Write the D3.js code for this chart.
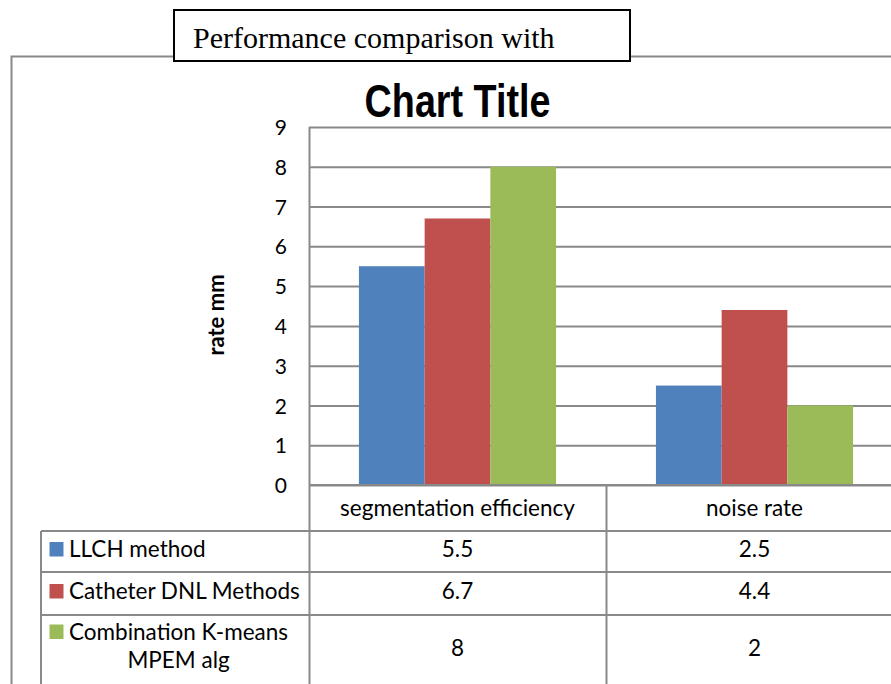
<!DOCTYPE html>
<html lang="en">
	<head>
		<meta charset="utf-8">
		<title>D3: Chart Title</title>
		<script type="text/javascript" src="https://d3js.org/d3.v7.min.js"></script>
		<style type="text/css">
			body {
				margin: 0;
				background-color: white;
			}
			.tick-label {
				font-family: Lato, sans-serif;
				font-size: 21px;
				fill: #000;
			}
			.cell {
				font-family: Lato, sans-serif;
				font-size: 22.5px;
				fill: #000;
			}
			.axis-title {
				font-family: Lato, sans-serif;
				font-size: 22px;
				font-weight: bold;
			}
			.chart-title {
				font-family: "Liberation Sans", Arial, sans-serif;
				font-size: 46px;
				font-weight: bold;
			}
			.box-title {
				font-family: "Liberation Serif", "Times New Roman", serif;
				font-size: 30px;
			}
		</style>
	</head>
	<body>
		<div id="chart"></div>
		<script type="text/javascript">
			//Data
			const categories = ["segmentation efficiency", "noise rate"];
			const seriesNames = ["LLCH method", "Catheter DNL Methods", "Combination K-means MPEM alg"];
			const llchValues = [5.5, 2.5];
			const catheterValues = [6.7, 4.4];
			const combinationValues = [8, 2];
			const yTicks = [0, 1, 2, 3, 4, 5, 6, 7, 8, 9];
			const colors = ["#4F81BD", "#C0504D", "#9BBB59"];

			// how the table wraps the long series name
			const labelLines = [["LLCH method"], ["Catheter DNL Methods"], ["Combination K-means", "MPEM alg"]];

			const series = [llchValues, catheterValues, combinationValues];

			//Layout
			const W = 891, H = 684;
			const plot = { left: 309, top: 127, bottom: 485, right: 903 };
			const rowEdges = [485, 531, 572, 615, 685];
			const tableLeft = 41;
			const lineColor = "#898989";

			const svg = d3.select("#chart")
				.append("svg")
				.attr("width", W)
				.attr("height", H);

			//Scales
			const x0 = d3.scaleBand()
				.domain(categories)
				.range([plot.left, plot.right]);
			const x1 = d3.scaleBand()
				.domain(seriesNames)
				.range([0, x0.bandwidth()])
				.paddingOuter(0.76);
			const yScale = d3.scaleLinear()
				.domain([0, 9])
				.range([plot.bottom, plot.top]);

			//Outer frame
			svg.append("path")
				.attr("d", `M11.5,${H} V56.5 H${W}`)
				.attr("fill", "none")
				.attr("stroke", lineColor)
				.attr("stroke-width", 2);

			//Gridlines and y tick labels
			const yAxis = d3.axisLeft(yScale)
				.tickValues(yTicks)
				.tickSize(-(W - plot.left))
				.tickSizeOuter(0)
				.tickPadding(22);

			const gy = svg.append("g")
				.attr("transform", `translate(${plot.left},0)`)
				.call(yAxis);
			gy.select(".domain").remove();
			gy.selectAll(".tick line")
				.attr("stroke", lineColor)
				.attr("stroke-width", 2);
			gy.selectAll(".tick text")
				.attr("class", "tick-label")
				.attr("dy", "0.36em")
				.style("font-family", null)
				.attr("font-family", null)
				.attr("font-size", null);

			//Bars
			const bars = [];
			categories.forEach(function(c, i) {
				seriesNames.forEach(function(s, j) {
					bars.push({ cat: c, name: s, value: series[j][i], color: colors[j] });
				});
			});

			svg.append("g")
				.selectAll("rect")
				.data(bars)
				.enter()
				.append("rect")
				.attr("x", d => x0(d.cat) + x1(d.name))
				.attr("y", d => yScale(d.value))
				.attr("width", x1.bandwidth())
				.attr("height", d => yScale(0) - yScale(d.value))
				.attr("fill", d => d.color);

			//Data table lines
			const table = svg.append("g")
				.attr("stroke", lineColor)
				.attr("stroke-width", 2);

			// top of header row = zero line
			table.append("line")
				.attr("x1", plot.left).attr("x2", W)
				.attr("y1", yScale(0)).attr("y2", yScale(0));
			rowEdges.slice(1, 4).forEach(function(y) {
				table.append("line")
					.attr("x1", tableLeft).attr("x2", W)
					.attr("y1", y).attr("y2", y);
			});
			// plot left edge continues into the table
			table.append("line")
				.attr("x1", plot.left + 0.5).attr("x2", plot.left + 0.5)
				.attr("y1", plot.top).attr("y2", H);
			categories.slice(1).forEach(function(c) {
				table.append("line")
					.attr("x1", x0(c) + 0.5).attr("x2", x0(c) + 0.5)
					.attr("y1", yScale(0)).attr("y2", H);
			});
			table.append("line")
				.attr("x1", tableLeft).attr("x2", tableLeft)
				.attr("y1", rowEdges[1]).attr("y2", H);

			//Header row
			svg.selectAll(".head")
				.data(categories)
				.enter()
				.append("text")
				.attr("class", "cell")
				.attr("text-anchor", "middle")
				.attr("x", d => x0(d) + x0.bandwidth() / 2)
				.attr("y", (rowEdges[0] + rowEdges[1]) / 2)
				.attr("dy", "0.35em")
				.text(d => d);

			//Series rows
			seriesNames.forEach(function(s, j) {
				const mid = (rowEdges[j + 1] + rowEdges[j + 2]) / 2;
				const lines = labelLines[j];
				const lineH = 28;
				const lineY = lines.map((l, k) => mid - 2 + (k - (lines.length - 1) / 2) * lineH - (lines.length > 1 ? 2 : 0));

				// legend key
				svg.append("rect")
					.attr("x", 49.5)
					.attr("y", lineY[0] + 7.8 - 15.3)
					.attr("width", 14)
					.attr("height", 14.5)
					.attr("fill", colors[j]);

				const first = svg.append("text")
					.attr("class", "cell")
					.attr("x", 69)
					.attr("y", lineY[0])
					.attr("dy", "0.35em")
					.text(lines[0]);
				const w1 = first.node().getComputedTextLength();
				lines.slice(1).forEach(function(l, k) {
					svg.append("text")
						.attr("class", "cell")
						.attr("text-anchor", "middle")
						.attr("x", 69 + w1 / 2)
						.attr("y", lineY[k + 1])
						.attr("dy", "0.35em")
						.text(l);
				});

				// values
				categories.forEach(function(c, i) {
					svg.append("text")
						.attr("class", "cell")
						.attr("text-anchor", "middle")
						.attr("x", x0(c) + x0.bandwidth() / 2)
						.attr("y", mid - 2)
						.attr("dy", "0.35em")
						.text(series[j][i]);
				});
			});

			//Axis title
			svg.append("text")
				.attr("class", "axis-title")
				.attr("text-anchor", "middle")
				.attr("transform", "translate(224,315) rotate(-90)")
				.text("rate mm");

			//Chart title (narrow bold)
			svg.append("text")
				.attr("class", "chart-title")
				.attr("text-anchor", "middle")
				.attr("transform", "translate(457.5,116.5) scale(0.82,1)")
				.text("Chart Title");

			//Boxed heading over the frame
			svg.append("rect")
				.attr("x", 174)
				.attr("y", 10)
				.attr("width", 456)
				.attr("height", 51)
				.attr("fill", "white")
				.attr("stroke", "#000")
				.attr("stroke-width", 2);
			svg.append("text")
				.attr("class", "box-title")
				.attr("x", 193)
				.attr("y", 48)
				.text("Performance comparison with");
		</script>
	</body>
</html>
